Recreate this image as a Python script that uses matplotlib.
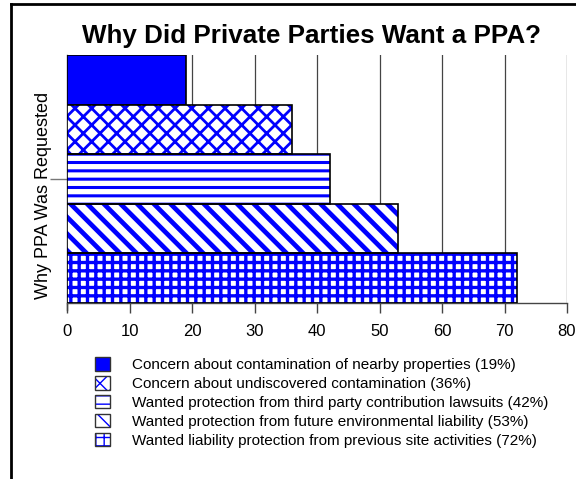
import numpy as np
import matplotlib
matplotlib.use('Agg')
import matplotlib.pyplot as plt
from matplotlib.patches import Patch
from matplotlib.lines import Line2D
from matplotlib.legend_handler import HandlerTuple

plt.rcParams['font.family'] = ['Liberation Sans', 'DejaVu Sans']

# data, top bar first
reasons = ['Concern about contamination of nearby properties',
           'Concern about undiscovered contamination',
           'Wanted protection from third party contribution lawsuits',
           'Wanted protection from future environmental liability',
           'Wanted liability protection from previous site activities']
percents = [19, 36, 42, 53, 72]
hatches = [None, 'xx', '--', '\\\\', '++']
hatch_lw = [1.0, 2.0, 2.2, 3.4, 2.4]
xticks = [0, 10, 20, 30, 40, 50, 60, 70, 80]

BLUE = '#0000ff'
GRID = '#444444'

fig = plt.figure(figsize=(5.76, 4.79), dpi=100)
ax = fig.add_axes([67 / 576, 1 - 303 / 479, 500 / 576, 248 / 479])

ypos = np.arange(len(percents))
handles = []
for y, v, h, lw in zip(ypos, percents, hatches, hatch_lw):
    if h is None:
        ax.barh(y, v, height=1.0, color=BLUE, edgecolor='black', linewidth=1.2, zorder=3)
        handles.append(Patch(facecolor=BLUE, edgecolor='#333333', linewidth=1.0))
    else:
        with plt.rc_context({'hatch.linewidth': lw}):
            ax.barh(y, v, height=1.0, color='white', edgecolor=BLUE, hatch=h, linewidth=0, zorder=3)
            hp = Patch(facecolor='white', edgecolor=BLUE, hatch=h, linewidth=0)
        ax.barh(y, v, height=1.0, fill=False, edgecolor='black', linewidth=1.2, zorder=4)
        op = Patch(fill=False, edgecolor='#333333', linewidth=1.0)
        handles.append((hp, op))

ax.set_ylim(len(percents) - 0.5, -0.5)
ax.set_xlim(0, 80)
ax.set_xticks(xticks)
ax.set_yticks([(len(percents) - 1) / 2])
ax.set_yticklabels([''])
ax.tick_params(axis='x', length=7, width=1, color=GRID, labelsize=12, pad=8)
ax.tick_params(axis='y', length=12, width=1, color='#777777')
ax.xaxis.grid(True, color=GRID, linewidth=0.9, zorder=0)
ax.set_axisbelow(True)
for s in ['top', 'right']:
    ax.spines[s].set_visible(False)
for s in ['left', 'bottom']:
    ax.spines[s].set_color(GRID)
    ax.spines[s].set_linewidth(1.0)
ax.spines['left'].set_bounds(-0.5, 4.65)

fig.text(44 / 576, 1 - 195 / 479, 'Why PPA Was Requested', fontsize=13,
         rotation=90, ha='center', va='center')
fig.text(311 / 576, 1 - 36 / 479, 'Why Did Private Parties Want a PPA?',
         fontsize=18.7, fontweight='bold', ha='center', va='center')

labels = ['{} ({}%)'.format(r, p) for r, p in zip(reasons, percents)]
fig.legend(handles, labels, handler_map={tuple: HandlerTuple(ndivide=1, pad=0)},
           loc='upper left', bbox_to_anchor=(95 / 576, 1 - 357 / 479), frameon=False,
           fontsize=11, handlelength=1.0, handleheight=1.0, labelspacing=0.25,
           handletextpad=1.45, borderpad=0, borderaxespad=0)

# outer frame
fig.add_artist(Line2D([11 / 576, 11 / 576], [0, 1 - 4 / 479], color='black', linewidth=2))
fig.add_artist(Line2D([11 / 576, 1], [1 - 4 / 479, 1 - 4 / 479], color='black', linewidth=2))

fig.savefig('out.png', dpi=100)
